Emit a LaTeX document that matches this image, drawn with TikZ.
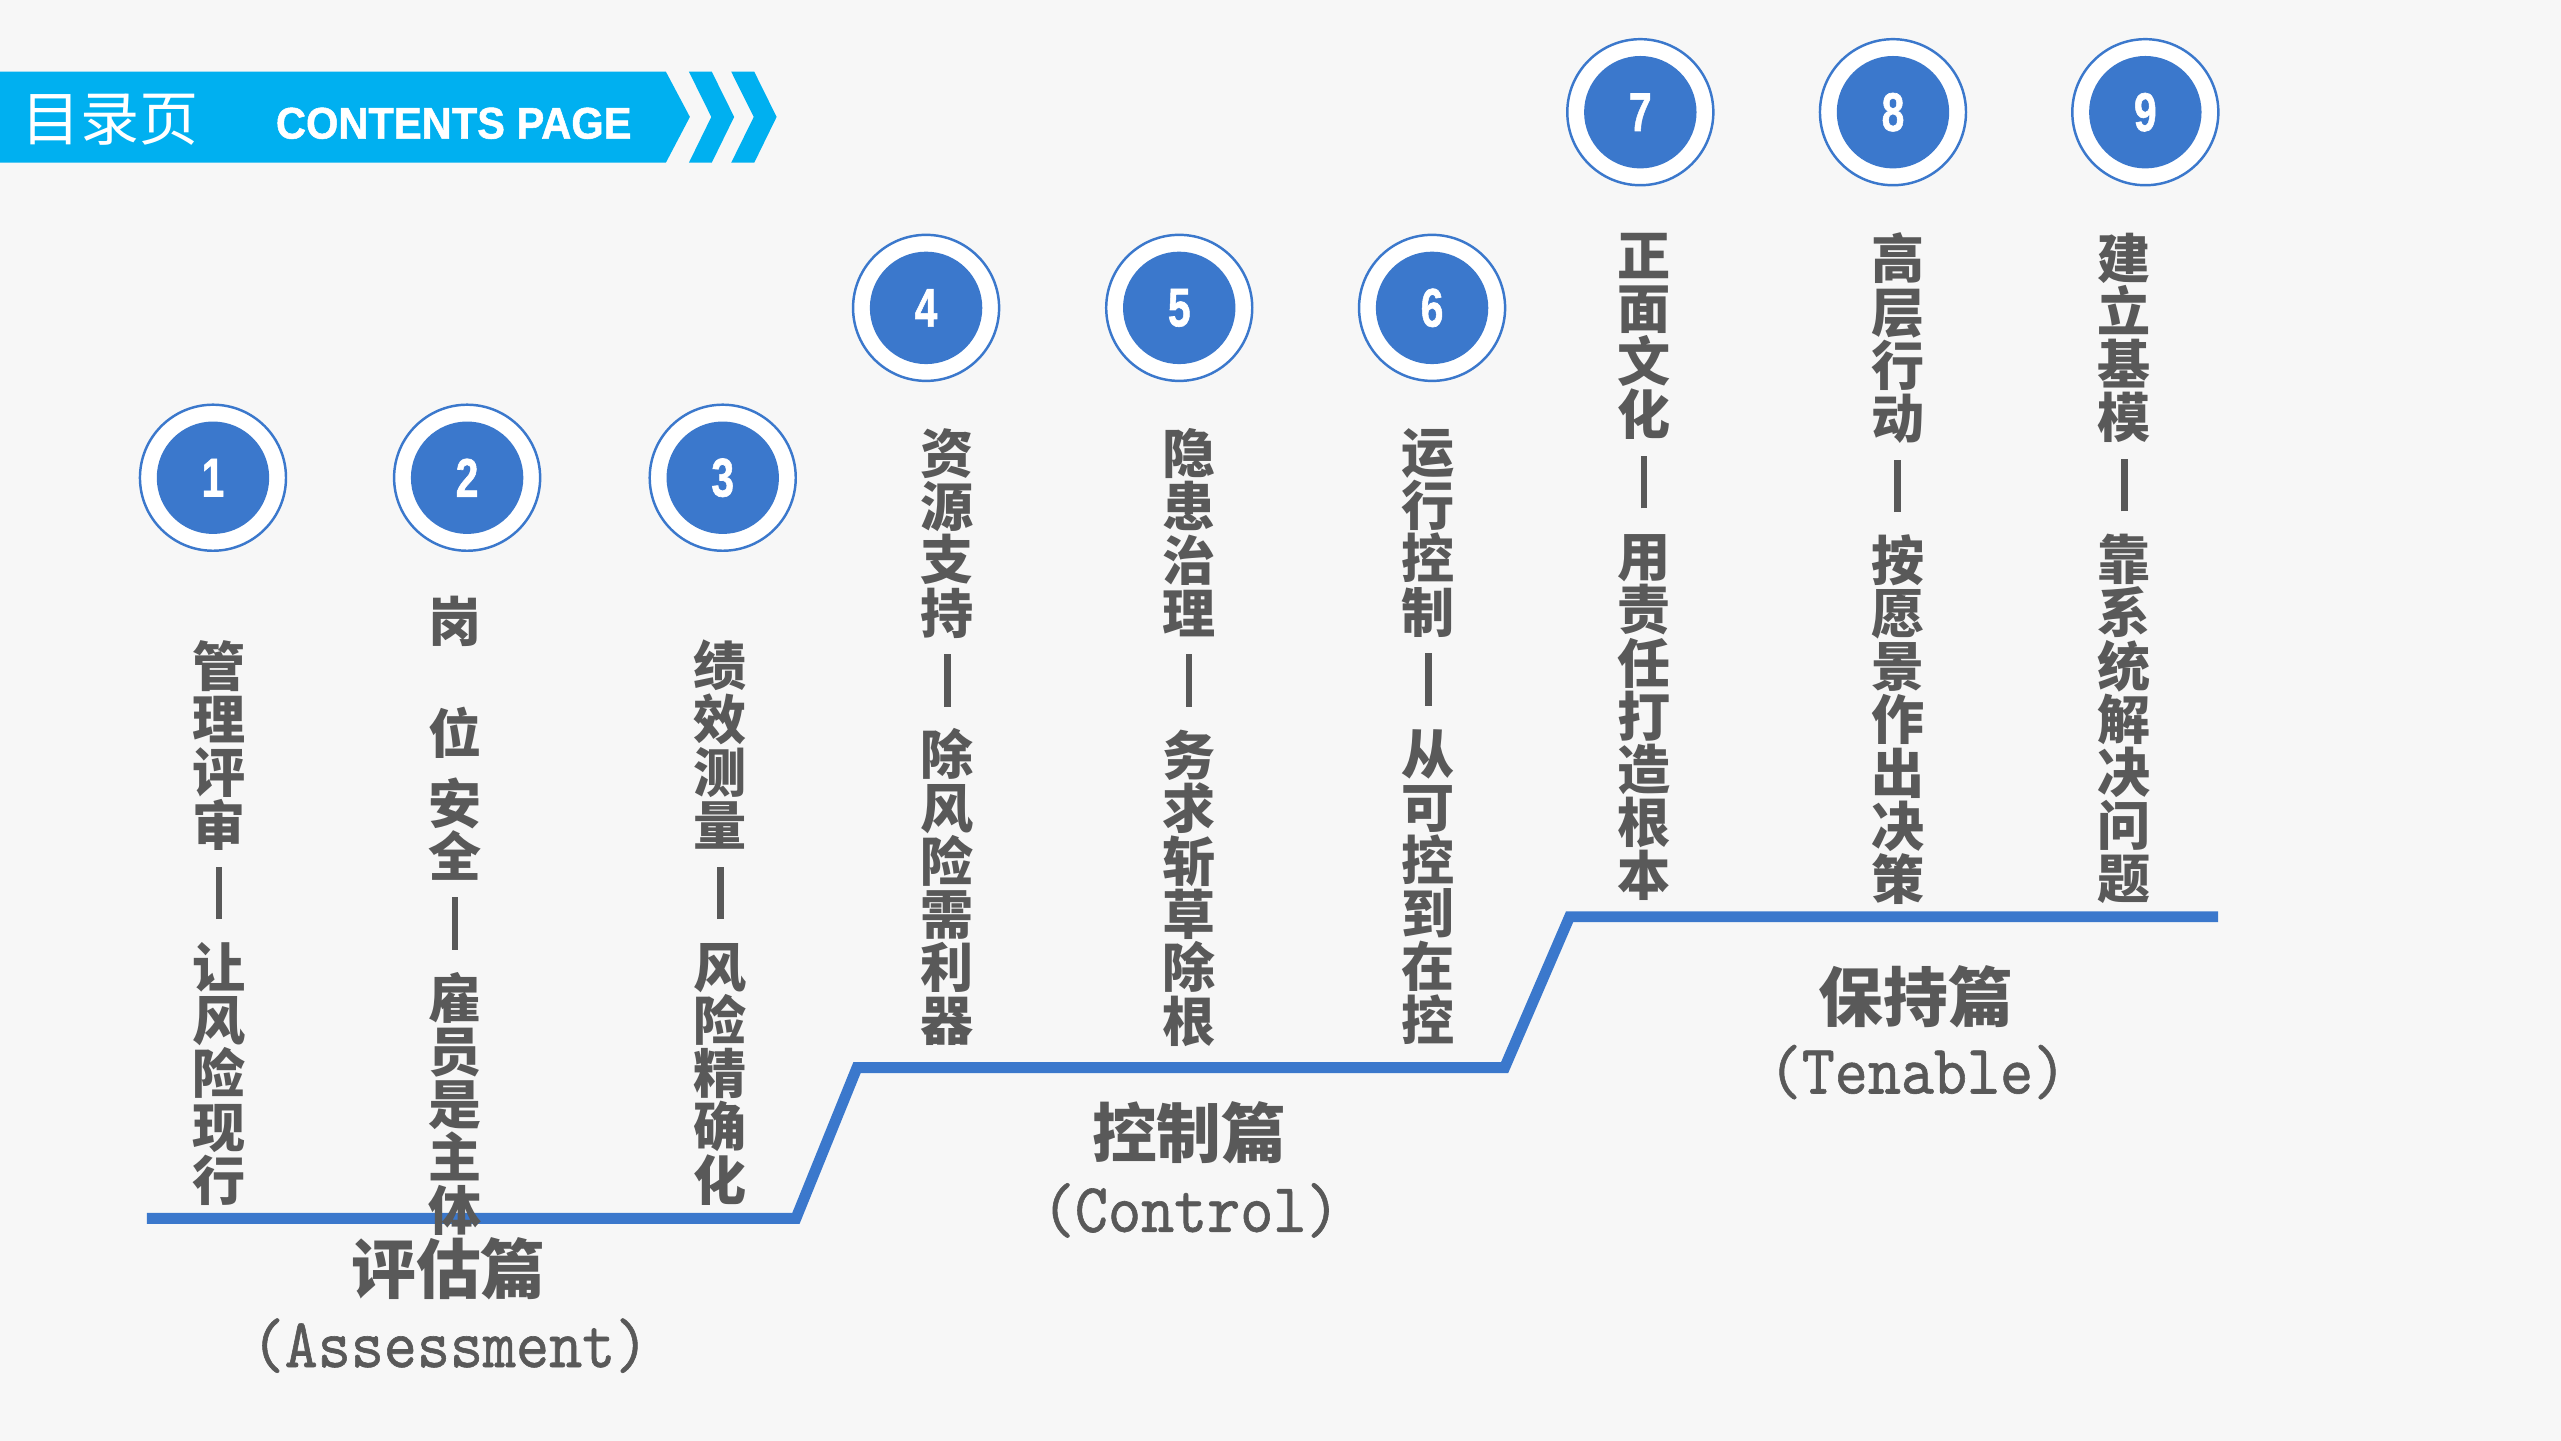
\documentclass[tikz,border=0pt]{standalone}
\usepackage{fontspec}
\usepackage{xcolor}
\usepackage{graphicx}
\usepackage{tikz}
\newfontfamily\cjk{Noto Sans CJK SC}
\newfontfamily\numfont{Liberation Sans}[BoldFeatures={FakeBold=1.2}]
\newfontfamily\latinmono{lmmono10-regular}[Extension=.otf, FakeBold=0.9]
\definecolor{pagebg}{HTML}{F7F7F7}
\definecolor{bannerblue}{HTML}{00B0F0}
\definecolor{stepblue}{HTML}{3B78CC}
\definecolor{textgray}{HTML}{595959}
\newcommand{\sepbar}{\smash{\rule[-1.7pt]{1.9pt}{14.9pt}}}
\tikzset{
    ring/.style={circle, draw=stepblue, line width=0.7pt, fill=white, minimum size=1.46cm, inner sep=0pt},
    num/.style={circle, fill=stepblue, text=white, minimum size=1.124cm, inner sep=0pt,
        font=\numfont\bfseries\fontsize{15.5}{15.5}\selectfont},
    column/.style={anchor=north, inner sep=0pt, align=center, text=textgray,
        font=\cjk\bfseries\fontsize{15.1}{15.13}\selectfont},
    part/.style={inner sep=0pt, text=textgray, font=\cjk\bfseries\fontsize{18.4}{18.4}\selectfont},
    partsub/.style={anchor=base, inner sep=0pt, text=textgray, font=\latinmono\fontsize{19.9}{19.9}\selectfont},
    banner/.style={inner sep=0pt, text=white},
    stepline/.style={draw=stepblue, line width=3.1pt, line join=miter}
}

\begin{document}
\begin{tikzpicture}[x=0.01633cm, y=-0.01633cm]
    \fill[pagebg] (0,0) rectangle (1568,882);

    \fill[bannerblue] (0,43.9) -- (407.7,43.9) -- (422.4,71.6) -- (407.7,99.6) -- (0,99.6) -- cycle;
    \fill[bannerblue] (421.8,43.9) -- (435.8,43.9) -- (449.5,71.6) -- (435.8,99.6) -- (421.8,99.6) -- (435.5,71.6) -- cycle;
    \fill[bannerblue] (447.7,43.9) -- (461.8,43.9) -- (475.5,71.6) -- (461.8,99.6) -- (447.7,99.6) -- (461.5,71.6) -- cycle;
    \node[banner, font=\cjk\fontsize{16.8}{16.8}\selectfont] (title) at (67.5,73.3) {目录页};
    \node[banner, font=\numfont\bfseries\fontsize{12.6}{12.6}\selectfont] (subtitle) at (277.8,75.5)
        {\scalebox{0.94}[1]{CONTENTS PAGE}};

    \node[ring] (r1) at (130.4,292.5) {};
    \node[num] (n1) at (r1) {\scalebox{0.75}[1]{1}};
    \node[ring] (r2) at (286,292.5) {};
    \node[num] (n2) at (r2) {\scalebox{0.75}[1]{2}};
    \node[ring] (r3) at (442.5,292.5) {};
    \node[num] (n3) at (r3) {\scalebox{0.75}[1]{3}};
    \node[ring] (r4) at (567,188.5) {};
    \node[num] (n4) at (r4) {\scalebox{0.75}[1]{4}};
    \node[ring] (r5) at (722,188.5) {};
    \node[num] (n5) at (r5) {\scalebox{0.75}[1]{5}};
    \node[ring] (r6) at (876.8,188.5) {};
    \node[num] (n6) at (r6) {\scalebox{0.75}[1]{6}};
    \node[ring] (r7) at (1004.3,68.7) {};
    \node[num] (n7) at (r7) {\scalebox{0.75}[1]{7}};
    \node[ring] (r8) at (1159,68.7) {};
    \node[num] (n8) at (r8) {\scalebox{0.75}[1]{8}};
    \node[ring] (r9) at (1313.5,68.7) {};
    \node[num] (n9) at (r9) {\scalebox{0.75}[1]{9}};

    \coordinate (s1) at (89.9,746);
    \coordinate (s2) at (487.3,746);
    \coordinate (s3) at (524.7,653.7);
    \coordinate (s4) at (921.2,653.7);
    \coordinate (s5) at (961,561.3);
    \coordinate (s6) at (1358,561.3);
    \draw[stepline] (s1) -- (s2) -- (s3) -- (s4) -- (s5) -- (s6);

    \node[column] (c1) at (134,391.5) {管\\理\\评\\审\\[4.1pt]\sepbar\\[6pt]让\\风\\险\\现\\行};
    \node[column] (c2) at (278.6,364.5) {岗\\[16.8pt]位\\[4.6pt]安\\全\\[4.1pt]\sepbar\\[6pt]雇\\员\\是\\主\\体};
    \node[column] (c3) at (441,391.5) {绩\\效\\测\\量\\[4.1pt]\sepbar\\[6pt]风\\险\\精\\确\\化};
    \node[column] (c4) at (580,262) {资\\源\\支\\持\\[4.1pt]\sepbar\\[6pt]除\\风\\险\\需\\利\\器};
    \node[column] (c5) at (728,262) {隐\\患\\治\\理\\[4.1pt]\sepbar\\[6pt]务\\求\\斩\\草\\除\\根};
    \node[column] (c6) at (874.6,262) {运\\行\\控\\制\\[4.1pt]\sepbar\\[6pt]从\\可\\控\\到\\在\\控};
    \node[column] (c7) at (1006.5,142.2) {正\\面\\文\\化\\[4.1pt]\sepbar\\[6pt]用\\责\\任\\打\\造\\根\\本};
    \node[column] (c8) at (1161.8,142.2) {高\\层\\行\\动\\[4.1pt]\sepbar\\[6pt]按\\愿\\景\\作\\出\\决\\策};
    \node[column] (c9) at (1300.6,142.2) {建\\立\\基\\模\\[4.1pt]\sepbar\\[6pt]靠\\系\\统\\解\\决\\问\\题};

    \node[part] (p1) at (274.6,777) {评估篇};
    \node[partsub] (e1) at (275.5,837) {\scalebox{0.9}[1]{(Assessment)}};
    \node[part] (p2) at (728,693.5) {控制篇};
    \node[partsub] (e2) at (729,754.2) {\scalebox{0.9}[1]{(Control)}};
    \node[part] (p3) at (1173,610) {保持篇};
    \node[partsub] (e3) at (1174,669.5) {\scalebox{0.9}[1]{(Tenable)}};
\end{tikzpicture}
\end{document}
